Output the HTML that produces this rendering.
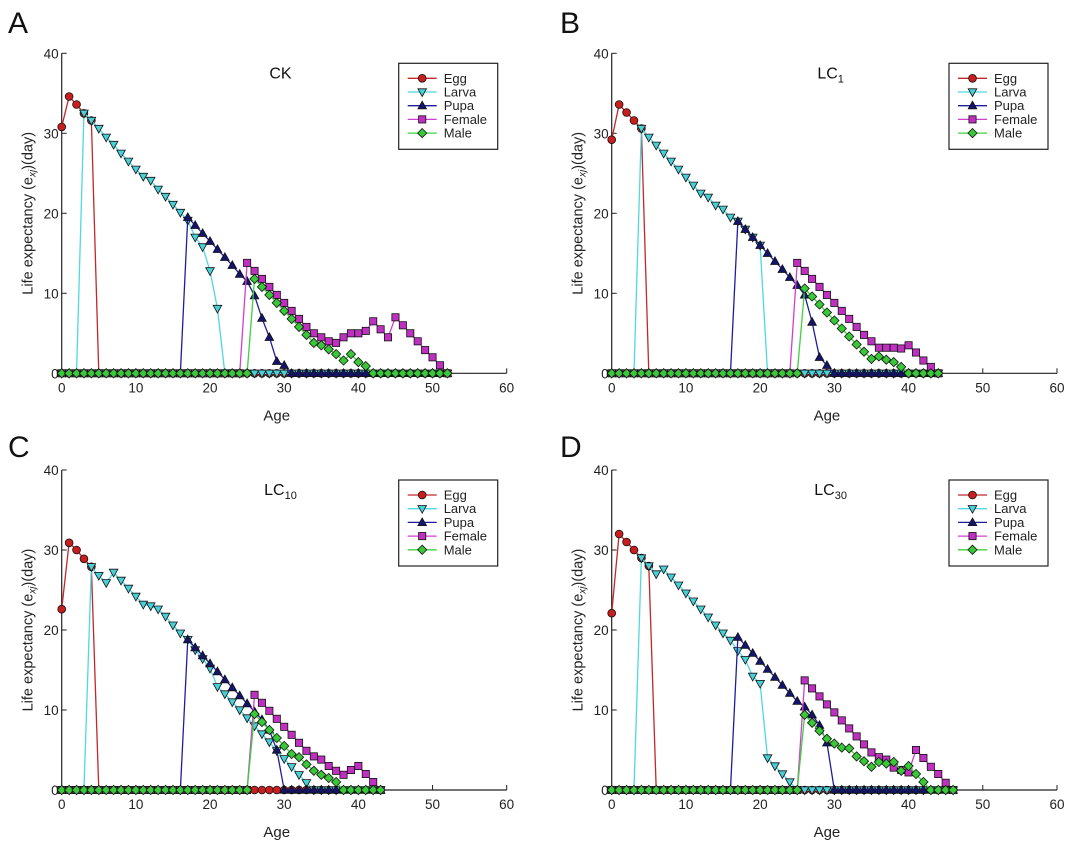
<!DOCTYPE html>
<html><head><meta charset="utf-8"><style>
body{margin:0;background:#fff;}
svg{display:block;font-family:"Liberation Sans",Arial,sans-serif;}
</style></head><body>
<svg id="fig" width="1076" height="842" viewBox="0 0 1076 842" xmlns="http://www.w3.org/2000/svg"></svg>
<script>
// ---- data (start age + values) ----
const A_egg_start=0;   const A_egg=[30.8,34.6,33.6,32.5,31.6,0];
const A_larva_start=2; const A_larva=[0,32.5,31.6,30.6,29.5,28.6,27.5,26.5,25.5,24.6,24.1,23.0,22.1,21.1,20.1,19.1,17.0,15.8,12.8,8.1,0];
const A_pupa_start=16; const A_pupa=[0,19.5,18.5,17.5,16.5,15.5,14.5,13.5,12.4,11.5,9.7,6.9,4.5,1.5,1.0,0];
const A_female_start=24; const A_female=[0,13.8,12.8,11.8,10.8,9.8,8.8,7.8,6.8,5.8,5.0,4.5,4.0,3.8,4.5,5.0,5.0,5.3,6.5,5.5,4.5,7.0,6.0,5.0,4.0,2.9,2.0,1.0,0];
const A_male_start=25; const A_male=[0,11.8,10.8,9.8,8.8,7.8,6.8,5.8,4.8,3.8,3.5,3.0,2.4,1.6,2.4,1.4,0.9,0];
const A_last=52;

const B_egg_start=0;   const B_egg=[29.2,33.6,32.6,31.6,30.6,0];
const B_larva_start=3; const B_larva=[0,30.6,29.5,28.5,27.5,26.5,25.5,24.5,23.5,22.5,22.0,21.0,20.5,19.5,19.0,18.0,17.0,16.0,0];
const B_pupa_start=16; const B_pupa=[0,19.0,18.0,17.0,16.0,15.0,14.0,13.0,12.0,11.0,9.8,6.4,2.0,1.0,0];
const B_female_start=24; const B_female=[0,13.8,12.8,11.8,10.8,9.8,8.8,7.8,6.8,5.8,4.8,4.0,3.2,3.2,3.2,3.1,3.5,2.6,1.6,0.8,0];
const B_male_start=25; const B_male=[0,10.6,9.6,8.6,7.6,6.6,5.6,4.6,3.6,2.7,1.8,2.1,1.7,1.4,0.8,0];
const B_last=44;

const C_egg_start=0;   const C_egg=[22.6,30.9,30.0,28.9,27.9,0];
const C_larva_start=3; const C_larva=[0,27.9,26.8,25.9,27.2,26.2,25.2,24.2,23.2,23.0,22.6,21.7,20.6,19.6,18.8,17.5,16.4,15.2,12.9,12.0,11.0,10.0,9.0,8.0,7.0,6.0,4.9,3.9,2.9,1.9,0.9,0];
const C_pupa_start=16; const C_pupa=[0,18.8,17.8,16.8,15.8,14.8,13.8,12.8,11.8,10.8,9.8,8.8,7.5,5.0,0];
const C_female_start=25; const C_female=[0,11.9,10.9,9.9,8.9,7.9,6.9,5.9,4.9,4.2,3.8,3.0,2.4,1.9,2.5,3.0,2.0,1.0,0];
const C_male_start=25; const C_male=[0,9.5,8.5,7.5,6.5,5.5,4.5,4.1,3.2,2.4,1.9,1.5,1.0,0];
const C_last=43;

const D_egg_start=0;   const D_egg=[22.1,32.0,31.0,30.0,29.0,28.0,0];
const D_larva_start=3; const D_larva=[0,29.0,28.0,27.0,27.6,26.6,25.6,24.6,23.6,22.6,21.6,20.6,19.6,18.7,17.4,16.3,14.2,13.3,4.0,3.0,2.0,1.0,0];
const D_pupa_start=16; const D_pupa=[0,19.1,18.1,17.1,16.1,15.1,14.1,13.1,12.1,11.1,10.4,9.4,8.1,5.9,0];
const D_female_start=25; const D_female=[0,13.7,12.7,11.7,10.7,9.7,8.7,7.7,6.7,5.7,4.7,4.1,3.8,2.8,2.5,2.2,5.0,4.0,2.9,2.0,0.9,0];
const D_male_start=25; const D_male=[0,9.4,8.4,7.4,6.4,5.8,5.3,5.2,4.2,3.6,2.9,3.5,3.3,3.5,2.4,3.0,2.0,1.0,0];
const D_last=46;

const xTicks=[0,10,20,30,40,50,60];
const yTicks=[0,10,20,30,40];
const seriesNames=["Egg","Larva","Pupa","Female","Male"];
const seriesLine=["#c0282a","#4fd8e0","#1e1e9a","#d040d0","#40d040"];
const seriesFill=["#c81e1e","#48d0d8","#14146e","#c030c0","#38c838"];
const seriesMark=["circle","tdown","tup","square","diamond"];

const NS="http://www.w3.org/2000/svg";
const svg=document.getElementById('fig');
function el(tag,attrs,parent){const e=document.createElementNS(NS,tag);for(const k in attrs)e.setAttribute(k,attrs[k]);(parent||svg).appendChild(e);return e;}

function marker(g,type,cx,cy,fill){
  let m;
  if(type==="circle") m=el('circle',{cx:cx,cy:cy,r:3.9},g);
  else if(type==="square") m=el('rect',{x:cx-3.6,y:cy-3.6,width:7.2,height:7.2},g);
  else if(type==="diamond") m=el('polygon',{points:`${cx},${cy-4.6} ${cx+4.6},${cy} ${cx},${cy+4.6} ${cx-4.6},${cy}`},g);
  else if(type==="tup") m=el('polygon',{points:`${cx},${cy-4.5} ${cx+4.3},${cy+3.2} ${cx-4.3},${cy+3.2}`},g);
  else m=el('polygon',{points:`${cx},${cy+4.5} ${cx+4.3},${cy-3.2} ${cx-4.3},${cy-3.2}`},g);
  m.setAttribute('fill',fill);m.setAttribute('stroke','#111');m.setAttribute('stroke-width','0.8');
  return m;
}

function panel(id,letter,ox,x60,y0,y40,title,sub,data,last,letterX,letterY){
  const g=el('g',{});
  
  
  const xs=v=>ox+(x60-ox)*v/60;
  const ys=v=>y0+(y40-y0)*v/40;
  const L=el('text',{x:letterX,y:letterY,'font-size':30,fill:'#111'},g);L.textContent=letter;
  
  
  const ax=el('path',{d:`M${ox},${y40} L${ox},${y0} L${x60},${y0}`,stroke:'#222','stroke-width':1.2,fill:'none'},g);
  
  
  xTicks.forEach(t=>{
    el('line',{x1:xs(t),x2:xs(t),y1:y0,y2:y0-5,stroke:'#222','stroke-width':1},g);
    const tx=el('text',{x:xs(t),y:y0+19,'font-size':13.5,'text-anchor':'middle',fill:'#222'},g);tx.textContent=t;
    
    
  });
  yTicks.forEach(t=>{
    el('line',{x1:ox,x2:ox+5,y1:ys(t),y2:ys(t),stroke:'#222','stroke-width':1},g);
    const tx=el('text',{x:ox-3,y:ys(t)+5,'font-size':13.5,'text-anchor':'end',fill:'#222'},g);tx.textContent=t;
    
    
  });
  const xt=el('text',{x:xs(29),y:y0+47,'font-size':15,'text-anchor':'middle',fill:'#222'},g);xt.textContent='Age';
  
  
  const yc=(y0+y40)/2;
  const yx=ox-29;
  const yt=el('text',{x:yx,y:yc,'font-size':14.5,'text-anchor':'middle',fill:'#222',transform:`rotate(-90 ${yx} ${yc})`},g);
  yt.innerHTML='Life expectancy (e<tspan font-size="10" dy="3" font-style="italic">xj</tspan><tspan dy="-3">)(day)</tspan>';
  
  
  const tt=el('text',{x:xs(29.5),y:y40+25,'font-size':16,'text-anchor':'middle',fill:'#111'},g);
  tt.innerHTML=title+(sub?`<tspan font-size="11" dy="4">${sub}</tspan>`:'');
  
  
  data.forEach((s,i)=>{
    const full=[];for(let a=0;a<=last;a++){const k=a-s.start;full.push(k>=0&&k<s.vals.length?s.vals[k]:0);}
    const sg=el('g',{},g);
    
    
    const pts=full.map((v,a)=>xs(a)+','+ys(v)).join(' ');
    el('polyline',{points:pts,fill:'none',stroke:seriesLine[i],'stroke-width':1.3},sg);
    full.forEach((v,a)=>marker(sg,seriesMark[i],xs(a),ys(v),seriesFill[i]));
  });
  const lx=x60-108, ly=y40+10;
  const lg=el('g',{},g);
  
  
  el('rect',{x:lx,y:ly,width:99,height:86,fill:'#fff',stroke:'#222','stroke-width':1.2},lg);
  seriesNames.forEach((n,i)=>{
    const yy=ly+15+i*13.7;
    const e=el('g',{},lg);
    
    
    el('line',{x1:lx+9,x2:lx+38,y1:yy,y2:yy,stroke:seriesLine[i],'stroke-width':1.3},e);
    marker(e,seriesMark[i],lx+23.5,yy,seriesFill[i]);
    const t=el('text',{x:lx+45,y:yy+4.5,'font-size':13,fill:'#222'},e);t.textContent=n;
  });
}
function S(st,v){return {start:st,vals:v};}
panel('a','A',61.7,506.7,373.3,53.3,'CK','',[S(A_egg_start,A_egg),S(A_larva_start,A_larva),S(A_pupa_start,A_pupa),S(A_female_start,A_female),S(A_male_start,A_male)],A_last,8,33);
panel('b','B',611.7,1057,373.3,53.3,'LC','1',[S(B_egg_start,B_egg),S(B_larva_start,B_larva),S(B_pupa_start,B_pupa),S(B_female_start,B_female),S(B_male_start,B_male)],B_last,560,33);
panel('c','C',61.7,506.7,790,470,'LC','10',[S(C_egg_start,C_egg),S(C_larva_start,C_larva),S(C_pupa_start,C_pupa),S(C_female_start,C_female),S(C_male_start,C_male)],C_last,8,457);
panel('d','D',611.7,1057,790,470,'LC','30',[S(D_egg_start,D_egg),S(D_larva_start,D_larva),S(D_pupa_start,D_pupa),S(D_female_start,D_female),S(D_male_start,D_male)],D_last,560,457);
</script>
</body></html>
